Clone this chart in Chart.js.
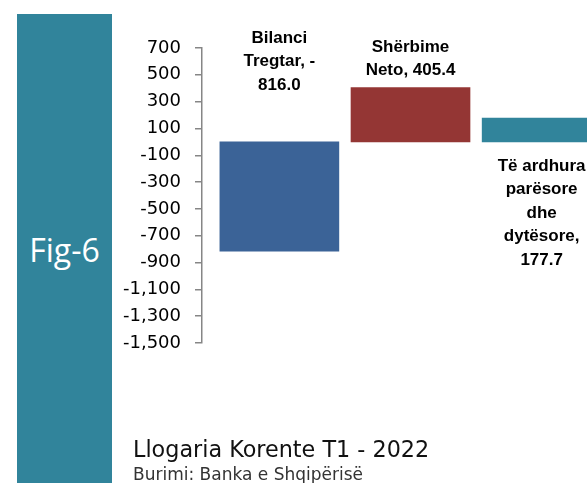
<!DOCTYPE html>
<html>
<head>
<meta charset="utf-8">
<script src="https://cdn.jsdelivr.net/npm/chart.js@4"></script>
<style>
  body { margin: 0; width: 587px; height: 483px; overflow: hidden; background: #fff; position: relative; }
  #strip { position: absolute; left: 17px; top: 14px; width: 95px; height: 480px; background: #31849B; }
  #fig { position: absolute; left: 17px; width: 95px; top: 234px; text-align: center; color: #fff;
         font-family: "Open Sans", sans-serif; font-size: 32px; line-height: 32px; }
  #chartBox { position: absolute; left: 0; top: 0; }
  #title { position: absolute; left: 133px; top: 438px; font-family: "DejaVu Sans", sans-serif;
           font-size: 22.3px; line-height: 22px; color: #111; white-space: nowrap; }
  #source { position: absolute; left: 133px; top: 466px; font-family: "DejaVu Sans", sans-serif;
            font-size: 17px; line-height: 17px; color: #333; white-space: nowrap; }
</style>
</head>
<body>
<div id="strip"></div>
<div id="fig">Fig-6</div>
<canvas id="chartBox" width="640" height="483"></canvas>
<div id="title">Llogaria Korente T1 - 2022</div>
<div id="source">Burimi: Banka e Shqipërisë</div>
<script>
var categories = ['Bilanci Tregtar', 'Shërbime Neto', 'Të ardhura parësore dhe dytësore'];
var values = [-816.0, 405.4, 177.7];
var barColors = ['#3B6397', '#943634', '#31849B'];
var yTicks = [700, 500, 300, 100, -100, -300, -500, -700, -900, -1100, -1300, -1500];

// excel put the labels by hand, so each one gets its own offset
var labelOffsets = [-57, -17, 24];

function wrapText(ctx, text, maxW)
{
  let segs = text.match(/\S*?-|\S+\s*/g);
  let lines = [];
  let line = '';
  segs.forEach(seg => {
    let test = (line + seg).trimEnd();
    if (line != '' && ctx.measureText(test).width > maxW) {
      lines.push(line.trimEnd());
      line = seg;
    } else {
      line += seg;
    }
  });
  if (line != '') lines.push(line.trimEnd());
  return lines;
}

var barLabels = {
  id: 'barLabels',
  afterDatasetsDraw(chart) {
    const ctx = chart.ctx;
    const meta = chart.getDatasetMeta(0);
    ctx.save();
    ctx.font = 'bold 17px "Liberation Sans"';
    ctx.fillStyle = '#000';
    ctx.textAlign = 'center';
    ctx.textBaseline = 'middle';
    const lh = 23.5;
    meta.data.forEach((bar, i) => {
      let text = categories[i] + ', ' + values[i].toFixed(1);
      let lines = wrapText(ctx, text, 100);
      let off = labelOffsets[i];
      let y;
      if (off < 0) {
        let anchor = Math.min(bar.y, bar.base);
        y = anchor + off - (lines.length - 1) * lh;
      } else {
        let anchor = Math.max(bar.y, bar.base);
        y = anchor + off;
      }
      lines.forEach((l, j) => ctx.fillText(l, bar.x, y + j * lh));
    });
    ctx.restore();
  }
};

new Chart('chartBox', {
  type: 'bar',
  data: {
    datasets: [{
      data: values.map((v, i) => ({ x: i, y: v })),
      backgroundColor: barColors,
      barThickness: 119
    }]
  },
  options: {
    responsive: false,
    animation: false,
    layout: { padding: { top: 48, bottom: 140, left: 0, right: 0 } },
    plugins: { legend: { display: false }, tooltip: { enabled: false } },
    scales: {
      x: { type: 'linear', display: false, offset: false, min: -0.59, max: 2.75 },
      y: {
        min: yTicks[yTicks.length - 1],
        max: yTicks[0],
        afterFit: s => { s.width = 202; },
        afterBuildTicks: s => { s.ticks = yTicks.map(v => ({ value: v })); },
        ticks: {
          callback: v => v.toLocaleString('en-US'),
          font: { family: 'DejaVu Sans', size: 18 },
          color: '#000',
          padding: 14
        },
        grid: { drawOnChartArea: false, tickLength: 7, color: '#868686', lineWidth: 1.5 },
        border: { display: true, color: '#868686', width: 1.5 }
      }
    }
  },
  plugins: [barLabels]
});
</script>
</body>
</html>
